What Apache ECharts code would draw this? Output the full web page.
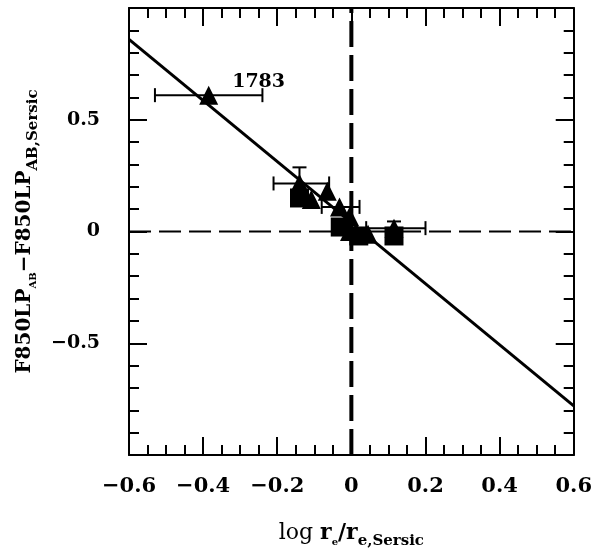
<!DOCTYPE html>
<html>
<head>
<meta charset="utf-8">
<script src="https://cdn.jsdelivr.net/npm/echarts@6/dist/echarts.min.js"></script>
<style>
  html, body { margin: 0; padding: 0; background: #fff; }
  #chart { width: 595px; height: 560px; }
</style>
</head>
<body>
<div id="chart"></div>
<script>
// points: log r_e/r_e,Sersic vs magnitude difference
const xVals  = [-0.385, -0.14, -0.14, -0.108, -0.065, -0.032, -0.005, -0.03, -0.005, 0.02, 0.045, 0.115, 0.115];
const yVals  = [0.61, 0.215, 0.15, 0.143, 0.18, 0.11, 0.067, 0.02, 0.0, -0.02, -0.012, 0.015, -0.02];
const shapes = ['triangle', 'triangle', 'rect', 'triangle', 'triangle', 'triangle', 'triangle', 'rect', 'triangle', 'rect', 'triangle', 'triangle', 'rect'];
// error bar ends (null = none drawn)
const xLo = [-0.53, -0.21, null, null, null, -0.08, null, null, null, null, null, 0.04, null];
const xHi = [-0.24, -0.06, null, null, null, 0.022, null, null, null, null, null, 0.2, null];
const yLo = [null, 0.15, null, null, null, null, null, null, null, null, null, -0.015, null];
const yHi = [null, 0.287, null, null, null, null, null, null, null, null, null, 0.045, null];
const labelText = '1783';

// fitted relation, end points at the box edges
const fitX = [-0.6, 0.6];
const fitY = [0.86, -0.78];

const chart = echarts.init(document.getElementById('chart'));
const font = 'DejaVu Serif';

const minus = v => String(v).replace('-', '\u2212');

function axisCommon(extra) {
  return Object.assign({
    type: 'value',
    axisLine: { show: true, onZero: false, lineStyle: { color: '#000', width: 2 } },
    axisTick: { show: true, inside: true, length: 18, lineStyle: { color: '#000', width: 2 } },
    minorTick: { show: true, length: 10, lineStyle: { color: '#000', width: 2 } },
    splitLine: { show: false },
    minorSplitLine: { show: false }
  }, extra);
}

const pts = xVals.map((x, i) => ({
  value: [x, yVals[i]],
  symbol: shapes[i],
  label: i === 0 ? {
    show: true, formatter: labelText, position: 'right', distance: 14, offset: [0, -13],
    color: '#000', fontFamily: font, fontWeight: 'bold', fontSize: 19
  } : { show: false }
}));

const errData = xVals.map((x, i) => [x, yVals[i], xLo[i], xHi[i], yLo[i], yHi[i]]);

const subSmall = { color: '#000', fontFamily: font, fontWeight: 'bold', fontSize: 10, verticalAlign: 'bottom', padding: [0, 0, 4, 0] };
const subLong = { color: '#000', fontFamily: font, fontWeight: 'bold', fontSize: 15, verticalAlign: 'bottom', padding: [0, 0, 2, 0] };

chart.setOption({
  animation: false,
  backgroundColor: '#fff',
  grid: { left: 129, right: 21, top: 8, bottom: 105 },
  xAxis: [
    axisCommon({
      min: -0.6, max: 0.6, interval: 0.2, position: 'bottom',
      minorTick: { show: true, splitNumber: 4, length: 10, lineStyle: { color: '#000', width: 2 } },
      axisLabel: { color: '#000', fontFamily: font, fontWeight: 'bold', fontSize: 21, margin: 21,
        formatter: v => minus(+v.toFixed(1)) },
      name: '{n|log }{r|r}{a|e}{r|/r}{b|e,Sersic}',
      nameLocation: 'middle', nameGap: 67,
      nameTextStyle: {
        rich: {
          n: { color: '#000', fontFamily: font, fontSize: 22, verticalAlign: 'bottom', padding: [0, 0, 7, 0] },
          r: { color: '#000', fontFamily: font, fontWeight: 'bold', fontSize: 22, verticalAlign: 'bottom', padding: [0, 0, 7, 0] },
          a: subSmall,
          b: subLong
        }
      }
    }),
    axisCommon({
      min: -0.6, max: 0.6, interval: 0.2, position: 'top',
      minorTick: { show: true, splitNumber: 4, length: 10, lineStyle: { color: '#000', width: 2 } },
      axisLabel: { show: false }
    })
  ],
  yAxis: [
    axisCommon({
      min: -1, max: 1, interval: 0.5, position: 'left',
      minorTick: { show: true, splitNumber: 5, length: 10, lineStyle: { color: '#000', width: 2 } },
      axisLabel: { color: '#000', fontFamily: font, fontWeight: 'bold', fontSize: 19, margin: 29,
        formatter: v => (Math.abs(v) > 0.9 ? '' : minus(+v.toFixed(1))) },
      name: '{n|F850LP}{a|AB}{n|\u2212F850LP}{b|AB,Sersic}',
      nameLocation: 'middle', nameGap: 85, nameRotate: 90,
      nameTextStyle: {
        rich: {
          n: { color: '#000', fontFamily: font, fontWeight: 'bold', fontSize: 20, verticalAlign: 'bottom', padding: [0, 0, 7, 0] },
          a: subSmall,
          b: subLong
        }
      }
    }),
    axisCommon({
      min: -1, max: 1, interval: 0.5, position: 'right',
      minorTick: { show: true, splitNumber: 5, length: 10, lineStyle: { color: '#000', width: 2 } },
      axisLabel: { show: false }
    })
  ],
  series: [
    {
      type: 'line', xAxisIndex: 0, yAxisIndex: 0, symbol: 'none', silent: true,
      data: [[0, -1], [0, 1]],
      lineStyle: { color: '#000', width: 4, type: [26, 8] }
    },
    {
      type: 'line', xAxisIndex: 0, yAxisIndex: 0, symbol: 'none', silent: true,
      data: [[-0.6, 0], [0.6, 0]],
      lineStyle: { color: '#000', width: 2, type: [22, 8] }
    },
    {
      type: 'line', xAxisIndex: 0, yAxisIndex: 0, symbol: 'none', silent: true,
      data: fitX.map((x, i) => [x, fitY[i]]),
      lineStyle: { color: '#000', width: 3 }
    },
    {
      type: 'custom', xAxisIndex: 0, yAxisIndex: 0, silent: true,
      data: errData,
      renderItem: function (params, api) {
        const x = api.value(0), y = api.value(1);
        const lo = api.value(2), hi = api.value(3), ylo = api.value(4), yhi = api.value(5);
        const children = [];
        const style = { stroke: '#000', lineWidth: 2 };
        const cap = 7;
        if (!isNaN(lo) && !isNaN(hi)) {
          const a = api.coord([lo, y]), b = api.coord([hi, y]);
          children.push({ type: 'line', shape: { x1: a[0], y1: a[1], x2: b[0], y2: b[1] }, style });
          children.push({ type: 'line', shape: { x1: a[0], y1: a[1] - cap, x2: a[0], y2: a[1] + cap }, style });
          children.push({ type: 'line', shape: { x1: b[0], y1: b[1] - cap, x2: b[0], y2: b[1] + cap }, style });
        }
        if (!isNaN(ylo) && !isNaN(yhi)) {
          const a = api.coord([x, ylo]), b = api.coord([x, yhi]);
          children.push({ type: 'line', shape: { x1: a[0], y1: a[1], x2: b[0], y2: b[1] }, style });
          children.push({ type: 'line', shape: { x1: a[0] - cap, y1: a[1], x2: a[0] + cap, y2: a[1] }, style });
          children.push({ type: 'line', shape: { x1: b[0] - cap, y1: b[1], x2: b[0] + cap, y2: b[1] }, style });
        }
        return { type: 'group', children };
      }
    },
    {
      type: 'scatter', xAxisIndex: 0, yAxisIndex: 0,
      symbolSize: 19,
      itemStyle: { color: '#000', opacity: 1 },
      data: pts
    }
  ]
});
</script>
</body>
</html>
